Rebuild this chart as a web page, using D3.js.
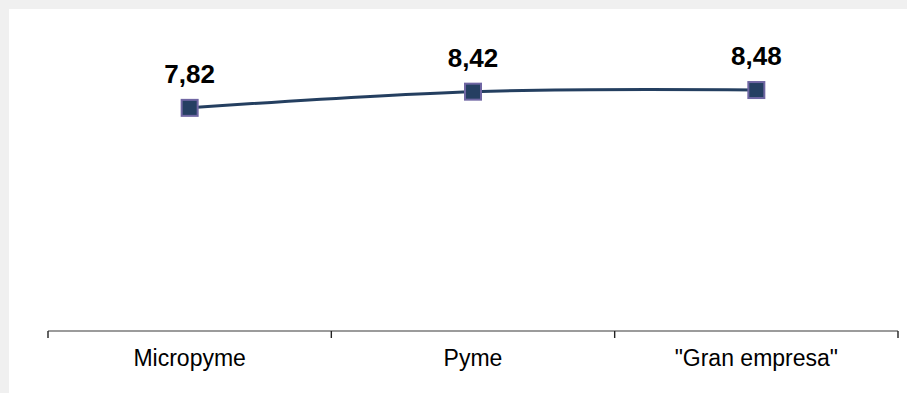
<!DOCTYPE html>
<html>
<head>
<meta charset="utf-8">
<script src="https://cdn.jsdelivr.net/npm/d3@7"></script>
<style>
  html, body { margin: 0; padding: 0; background: #f0f0f0; }
  svg { display: block; }
</style>
</head>
<body>
<svg id="chart" width="907" height="393"></svg>
<script>
const categories = ["Micropyme", "Pyme", "\"Gran empresa\""];
const values = [7.82, 8.42, 8.48];
const valueLabels = ["7,82", "8,42", "8,48"];

const width = 907, height = 393;
const svg = d3.select("#chart");

svg.append("rect")
  .attr("x", 9).attr("y", 9)
  .attr("width", width - 9).attr("height", height - 9)
  .attr("fill", "#fff");

const x = d3.scaleBand().domain(categories).range([48, 898]);
const y = d3.scaleLinear().domain([0, 10]).range([319, 49]);
const axisY = 331;

// category axis
const axis = svg.append("g")
  .attr("transform", `translate(0,${axisY})`);

axis.append("line")
  .attr("x1", x.range()[0]).attr("x2", x.range()[1])
  .attr("stroke", "#7a7a7a").attr("stroke-width", 1.6);

const tickPos = categories.map(c => x(c)).concat([x.range()[1]]);
axis.selectAll("line.tick")
  .data(tickPos)
  .join("line")
  .attr("class", "tick")
  .attr("x1", d => d).attr("x2", d => d)
  .attr("y1", 0).attr("y2", 7)
  .attr("stroke", "#222").attr("stroke-width", 1.4);

axis.selectAll("text")
  .data(categories)
  .join("text")
  .attr("x", d => x(d) + x.bandwidth() / 2)
  .attr("y", 35)
  .attr("text-anchor", "middle")
  .attr("font-family", "Liberation Sans, Arial, sans-serif")
  .attr("font-size", 23)
  .attr("fill", "#000")
  .text(d => d);

const points = categories.map((c, i) => ({ c, v: values[i], label: valueLabels[i] }));

const line = d3.line()
  .x(d => x(d.c) + x.bandwidth() / 2)
  .y(d => y(d.v))
  .curve(d3.curveCatmullRom.alpha(0.5));

svg.append("path")
  .datum(points)
  .attr("d", line)
  .attr("fill", "none")
  .attr("stroke", "#243f60")
  .attr("stroke-width", 3);

const s = 16;
svg.selectAll("rect.marker")
  .data(points)
  .join("rect")
  .attr("class", "marker")
  .attr("x", d => x(d.c) + x.bandwidth() / 2 - s / 2)
  .attr("y", d => y(d.v) - s / 2)
  .attr("width", s).attr("height", s)
  .attr("fill", "#253f62")
  .attr("stroke", "#6f66a3")
  .attr("stroke-width", 2);

svg.selectAll("text.value")
  .data(points)
  .join("text")
  .attr("class", "value")
  .attr("x", d => x(d.c) + x.bandwidth() / 2)
  .attr("y", d => y(d.v) - 25)
  .attr("text-anchor", "middle")
  .attr("font-family", "Liberation Sans, Arial, sans-serif")
  .attr("font-weight", "bold")
  .attr("font-size", 26)
  .attr("fill", "#000")
  .text(d => d.label);
</script>
</body>
</html>
